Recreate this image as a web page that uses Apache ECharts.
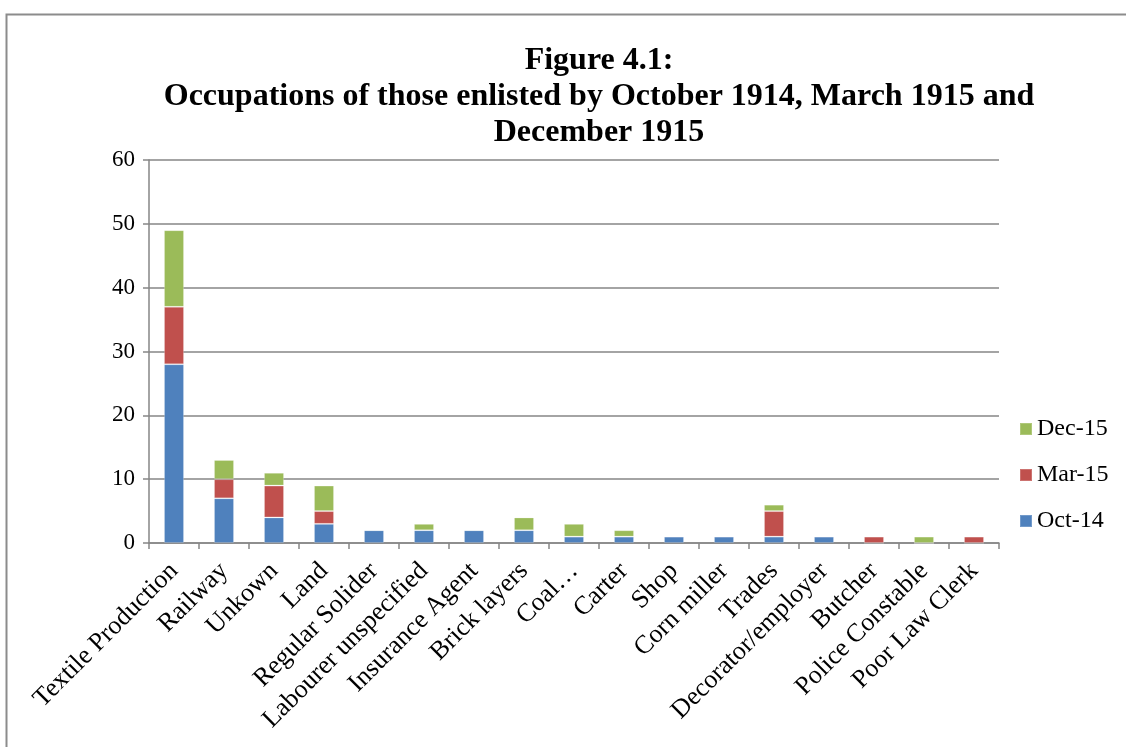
<!DOCTYPE html>
<html>
<head>
<meta charset="utf-8">
<script src="https://cdn.jsdelivr.net/npm/echarts@6/dist/echarts.min.js"></script>
<style>
  html, body { margin: 0; padding: 0; background: #fff; }
  #chart { width: 1126px; height: 747px; }
</style>
</head>
<body>
<div id="chart"></div>
<script>
// occupations and counts per enlistment date
var occupations = ['Textile Production', 'Railway', 'Unkown', 'Land', 'Regular Solider',
  'Labourer unspecified', 'Insurance Agent', 'Brick layers', 'Coal…', 'Carter', 'Shop',
  'Corn miller', 'Trades', 'Decorator/employer', 'Butcher', 'Police Constable', 'Poor Law Clerk'];
var oct14 = [28, 7, 4, 3, 2, 2, 2, 2, 1, 1, 1, 1, 1, 1, 0, 0, 0];
var mar15 = [9, 3, 5, 2, 0, 0, 0, 0, 0, 0, 0, 0, 4, 0, 1, 0, 1];
var dec15 = [12, 3, 2, 4, 0, 1, 0, 2, 2, 1, 0, 0, 1, 0, 0, 1, 0];
var yTicks = [0, 10, 20, 30, 40, 50, 60];

var serif = '"Liberation Serif", "Times New Roman", serif';
var myChart = echarts.init(document.getElementById('chart'));

function bar(name, data, color) {
  return {
    name: name,
    type: 'bar',
    stack: 'total',
    data: data,
    barWidth: '40%',
    itemStyle: { color: color, borderColor: 'rgba(255,255,255,0.2)', borderWidth: 1 }
  };
}

option = {
  backgroundColor: '#fff',
  animation: false,
  graphic: [{
    type: 'rect',
    left: 4, top: 12,
    shape: { width: 1200, height: 800 },
    style: { fill: 'none', stroke: '#8c8c8c', lineWidth: 2 }
  }],
  title: {
    text: 'Figure 4.1:\nOccupations of those enlisted by October 1914, March 1915 and\nDecember 1915',
    left: 594,
    top: 38,
    textAlign: 'center',
    textStyle: {
      fontFamily: serif,
      fontWeight: 'bold',
      fontSize: 32,
      lineHeight: 36,
      color: '#000'
    }
  },
  legend: {
    orient: 'vertical',
    left: 1014,
    top: 412,
    itemGap: 22,
    itemWidth: 12,
    itemHeight: 12,
    icon: 'rect',
    data: ['Dec-15', 'Mar-15', 'Oct-14'],
    textStyle: { fontFamily: serif, fontSize: 24, color: '#000' }
  },
  grid: { left: 149, right: 127, top: 160, bottom: 204, containLabel: false },
  xAxis: {
    type: 'category',
    data: occupations,
    axisLine: { lineStyle: { color: '#868686', width: 1.5 } },
    axisTick: { show: true, length: 6, lineStyle: { color: '#868686', width: 1.5 } },
    axisLabel: {
      interval: 0,
      rotate: 45,
      margin: 24,
      fontFamily: serif,
      fontSize: 26,
      color: '#000'
    }
  },
  yAxis: {
    type: 'value',
    min: 0,
    max: 60,
    interval: 10,
    axisLine: { show: true, lineStyle: { color: '#868686', width: 1.5 } },
    axisTick: { show: true, length: 6, lineStyle: { color: '#868686', width: 1.5 } },
    splitLine: { lineStyle: { color: '#868686', width: 1.5 } },
    axisLabel: {
      margin: 14,
      fontFamily: serif,
      fontSize: 23,
      color: '#000',
      formatter: function (v) { return yTicks.indexOf(v) >= 0 ? String(v) : ''; }
    }
  },
  series: [
    bar('Oct-14', oct14, '#4F81BD'),
    bar('Mar-15', mar15, '#C0504D'),
    bar('Dec-15', dec15, '#9BBB59')
  ]
};
myChart.setOption(option);
</script>
</body>
</html>
